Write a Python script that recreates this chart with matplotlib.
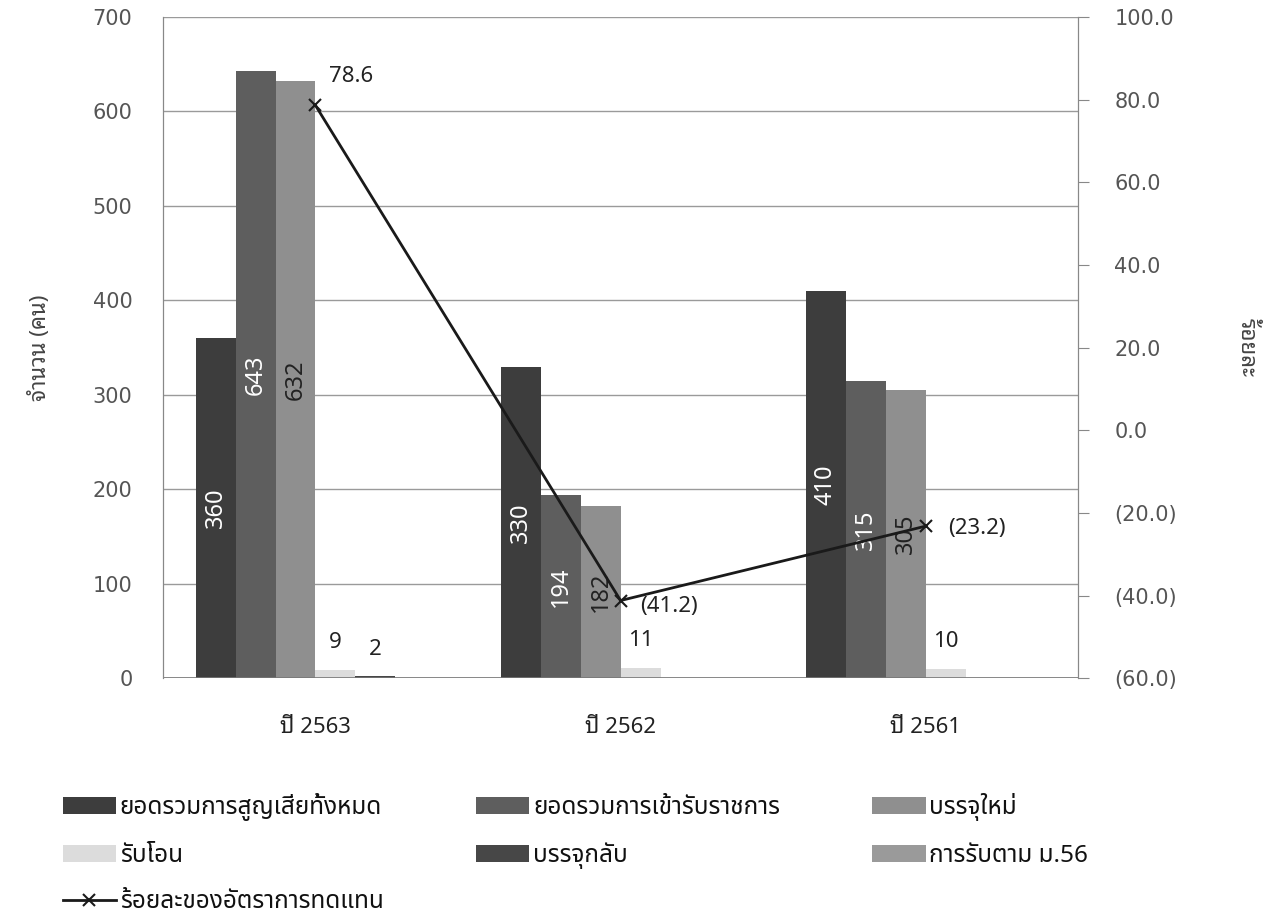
import matplotlib
matplotlib.use('Agg')
import matplotlib.pyplot as plt
import matplotlib.transforms as mtransforms
import numpy as np
from matplotlib.ticker import FuncFormatter

years = ['ปี 2563', 'ปี 2562', 'ปี 2561']
series_names = ['ยอดรวมการสูญเสียทั้งหมด', 'ยอดรวมการเข้ารับราชการ', 'บรรจุใหม่',
                'รับโอน', 'บรรจุกลับ', 'การรับตาม ม.56']
total_loss = [360, 330, 410]
total_in = [643, 194, 315]
new_hire = [632, 182, 305]
transfer = [9, 11, 10]
reinstate = [2, 0, 0]
sec56 = [0, 0, 0]
replace_pct = [78.6, -41.2, -23.2]
line_name = 'ร้อยละของอัตราการทดแทน'

colors = ['#3d3d3d', '#5e5e5e', '#8f8f8f', '#dcdcdc', '#474747', '#9a9a9a']
label_colors = ['white', 'white', '#222222']

THAI = ['Noto Sans Thai', 'DejaVu Sans']
LOOPED = ['Noto Sans Thai Looped', 'DejaVu Sans']

fig = plt.figure(figsize=(12.73, 9.19), dpi=100)
ax = fig.add_axes([0.128, 0.262, 0.719, 0.7195])
ax2 = ax.twinx()

x = np.arange(len(years))
width = 0.131
data = [total_loss, total_in, new_hire, transfer, reinstate, sec56]
handles = []
for i, vals in enumerate(data):
    pos = x + (i - 2.5) * width
    b = ax.bar(pos, vals, width, color=colors[i], label=series_names[i], zorder=2)
    handles.append(b)
    for xp, v in zip(pos, vals):
        if v == 0:
            continue
        if i < 3:
            ax.text(xp, v / 2, str(v), rotation=90, ha='center', va='center',
                    fontsize=17, color=label_colors[i], family=THAI, zorder=4)
        else:
            ax.annotate(str(v), (xp, v), xytext=(0, 12), textcoords='offset points',
                        ha='center', va='bottom', fontsize=16, color='#222222',
                        family=THAI)

ax.set_xlim(-0.5, 2.5)
ax.set_ylim(0, 700)
ax.set_yticks(range(0, 701, 100))
ax.grid(axis='y', color='#9a9a9a', linewidth=1.0, zorder=0)
ax.set_axisbelow(True)
ax.set_xticks(x)
ax.set_xticklabels(years, family=LOOPED, fontsize=16, color='#222222')
offset = mtransforms.ScaledTranslation(-0.22, 0, fig.dpi_scale_trans)
for lab in ax.get_xticklabels():
    lab.set_transform(lab.get_transform() + offset)
ax.tick_params(axis='x', length=0, pad=28)
ax.tick_params(axis='y', length=0, pad=22, labelsize=15, labelcolor='#555555')
ax.set_ylabel('จำนวน (คน)', family=LOOPED, fontsize=16, color='#444444', labelpad=30)

line, = ax2.plot(x, replace_pct, color='#1a1a1a', linewidth=2, marker='x',
                 markersize=9, markeredgewidth=1.5, label=line_name, zorder=5)
ax2.set_ylim(-60, 100)
ax2.set_yticks(range(-60, 101, 20))
ax2.yaxis.set_major_formatter(FuncFormatter(
    lambda v, p: '(%.1f)' % abs(v) if v < 0 else '%.1f' % v))
ax2.tick_params(axis='y', direction='out', length=8, color='#888888', pad=18,
                labelsize=15, labelcolor='#555555')
ax2.set_ylabel('ร้อยละ', family=LOOPED, fontsize=16, color='#444444',
               rotation=270, labelpad=50, va='center')

pct_offsets = [(10, 21), (14, -4), (16, -2)]
for xp, v, off in zip(x, replace_pct, pct_offsets):
    txt = '(%.1f)' % abs(v) if v < 0 else '%.1f' % v
    ax2.annotate(txt, (xp, v), xytext=off, textcoords='offset points',
                 ha='left', va='center', fontsize=16, color='#222222', family=THAI)

for a in (ax, ax2):
    for s in ('top', 'bottom'):
        a.spines[s].set_visible(False)
    a.spines['left'].set_color('#888888')
    a.spines['right'].set_color('#888888')
ax.axhline(0, color='#777777', linewidth=1.2, zorder=3)

order = [handles[0], handles[3], line, handles[1], handles[4], handles[2], handles[5]]
labels = [series_names[0], series_names[3], line_name, series_names[1],
          series_names[4], series_names[2], series_names[5]]
leg = fig.legend(order, labels, ncol=3, loc='upper left', bbox_to_anchor=(0.032, 0.161),
                 frameon=False, prop={'family': THAI, 'size': 17.5},
                 handlelength=2.2, handleheight=0.7, handletextpad=0.15,
                 columnspacing=3.8, labelspacing=0.93)
for t in leg.get_texts():
    t.set_color('#111111')

fig.savefig('out.png', dpi=100)
